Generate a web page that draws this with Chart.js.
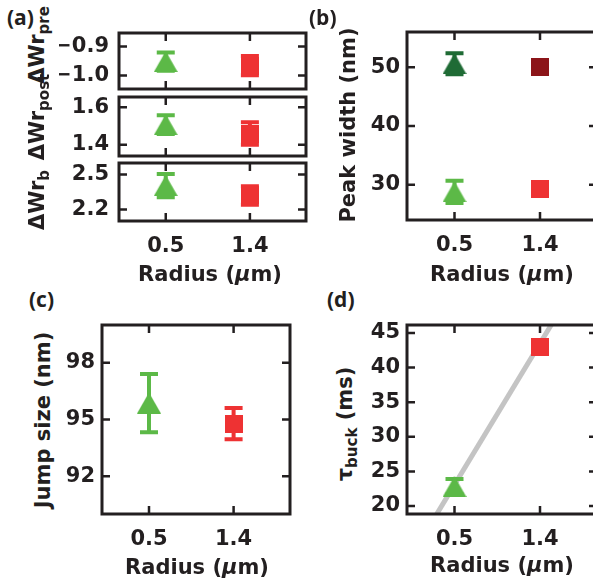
<!DOCTYPE html>
<html>
<head>
<meta charset="utf-8">
<script src="https://cdn.jsdelivr.net/npm/chart.js@4.4.0/dist/chart.umd.min.js"></script>
<style>
  html, body { margin: 0; padding: 0; background: #fff; overflow: hidden; }
  body { width: 593px; height: 586px; position: relative; }
  canvas { position: absolute; }
  .lbl { position: absolute; font: bold 21px "DejaVu Sans"; color: #231f20; line-height: 1; white-space: nowrap; }
  .rot { transform: translate(-50%, -50%) rotate(-90deg); }
  .hor { transform: translateX(-50%); }
  .sub { font-size: 15px; position: relative; top: 5px; }
  .tag { position: absolute; font: bold 21px "Open Sans"; color: #231f20; line-height: 1; }
</style>
</head>
<body>
<canvas id="a1"></canvas>
<canvas id="a2"></canvas>
<canvas id="a3"></canvas>
<canvas id="b"></canvas>
<canvas id="c"></canvas>
<canvas id="d"></canvas>

<div class="tag" style="left:7px;top:7px">(a)</div>
<div class="tag" style="left:309px;top:7px">(b)</div>
<div class="tag" style="left:29px;top:289px">(c)</div>
<div class="tag" style="left:327px;top:289px">(d)</div>

<div class="lbl rot" style="left:37px;top:45px">ΔWr<span class="sub">pre</span></div>
<div class="lbl rot" style="left:37px;top:117px">ΔWr<span class="sub">post</span></div>
<div class="lbl rot" style="left:37px;top:200px">ΔWr<span class="sub">b</span></div>
<div class="lbl rot" style="left:348px;top:125px">Peak width (nm)</div>
<div class="lbl rot" style="left:43px;top:420px">Jump size (nm)</div>
<div class="lbl rot" style="left:345px;top:424px">τ<span class="sub">buck</span> (ms)</div>

<div class="lbl hor" style="left:210px;top:264px">Radius (<i>μ</i>m)</div>
<div class="lbl hor" style="left:502px;top:264px">Radius (<i>μ</i>m)</div>
<div class="lbl hor" style="left:197px;top:557px">Radius (<i>μ</i>m)</div>
<div class="lbl hor" style="left:502px;top:555px">Radius (<i>μ</i>m)</div>

<script>
// x positions (radius, um) and ticks shared by every panel
const radius = [0.5, 1.4];
const radiusTicks = [0.5, 1.4];

// (a) three stacked panels
const preValues = [-0.952, -0.966];
const preErrors = [0.031, 0.033];
const preTicks = [-1.0, -0.9];

const postValues = [1.507, 1.46];
const postErrors = [0.05, 0.06];
const postTicks = [1.4, 1.6];

const bValues = [2.405, 2.32];
const bErrors = [0.1, 0.08];
const bTicks = [2.2, 2.5];

// (b) peak width, two groups
const widthNarrow = [28.8, 29.2];
const widthNarrowErr = [1.9, 0.6];
const widthWide = [50.6, 50.0];
const widthWideErr = [1.8, 0.5];
const widthTicks = [30, 40, 50];

// (c) jump size
const jumpValues = [95.87, 94.78];
const jumpErrors = [1.54, 0.83];
const jumpTicks = [92, 95, 98];

// (d) buckling time with linear fit
const tauValues = [22.8, 43.0];
const tauErrors = [1.1, 0.7];
const tauTicks = [20, 25, 30, 35, 40, 45];
const fitRadius = [0.2, 1.7];
const fitTau = [16.26, 50.31];

const GREEN = '#5cb947', RED = '#ee3233';
const DARK_GREEN = '#1f6b35', DARK_RED = '#8c1519';
const INK = '#231f20', FIT = '#c4c4c4';
const FONT = { family: 'DejaVu Sans', size: 21, weight: 'bold' };

function marker(shape, color) {
  const c = document.createElement('canvas');
  const w = shape === 'tri' ? 24 : 18;
  const h = shape === 'tri' ? 21 : 18;
  c.width = w; c.height = h;
  const g = c.getContext('2d');
  g.fillStyle = color;
  if (shape === 'tri') {
    g.beginPath(); g.moveTo(w / 2, 0); g.lineTo(w, h); g.lineTo(0, h); g.closePath(); g.fill();
  } else {
    g.fillRect(0, 0, w, h);
  }
  return c;
}

function series(values, errors, colors) {
  return {
    data: radius.map((x, i) => ({ x, y: values[i] })),
    errors: errors,
    errColor: colors,
    pointStyle: [marker('tri', colors[0]), marker('rect', colors[1])],
    pointRadius: 12,
    pointHoverRadius: 12,
    showLine: false
  };
}

// error bars under each marker, inward ticks and the box
const frame = {
  id: 'frame',
  beforeDatasetDraw(chart, args) {
    const ds = chart.data.datasets[args.index];
    if (!ds.errors) return;
    const ctx = chart.ctx, xs = chart.scales.x, ys = chart.scales.y;
    ctx.save();
    ctx.lineWidth = 4;
    ds.data.forEach((p, i) => {
      const x = xs.getPixelForValue(p.x);
      const y0 = ys.getPixelForValue(p.y - ds.errors[i]);
      const y1 = ys.getPixelForValue(p.y + ds.errors[i]);
      ctx.strokeStyle = ds.errColor[i];
      ctx.beginPath();
      ctx.moveTo(x, y0); ctx.lineTo(x, y1);
      ctx.moveTo(x - 9, y0); ctx.lineTo(x + 9, y0);
      ctx.moveTo(x - 9, y1); ctx.lineTo(x + 9, y1);
      ctx.stroke();
    });
    ctx.restore();
  },
  afterDraw(chart, args, opts) {
    const ctx = chart.ctx, a = chart.chartArea;
    const xs = chart.scales.x, ys = chart.scales.y;
    ctx.save();
    ctx.strokeStyle = INK;
    ctx.lineWidth = 2.5;
    ctx.beginPath();
    radiusTicks.forEach(v => {
      const x = xs.getPixelForValue(v);
      ctx.moveTo(x, a.bottom); ctx.lineTo(x, a.bottom - 8);
      ctx.moveTo(x, a.top); ctx.lineTo(x, a.top + 8);
    });
    opts.yTicks.forEach(v => {
      const y = ys.getPixelForValue(v);
      ctx.moveTo(a.left, y); ctx.lineTo(a.left + 8, y);
      ctx.moveTo(a.right, y); ctx.lineTo(a.right - 8, y);
    });
    ctx.stroke();
    ctx.lineWidth = 3;
    ctx.strokeRect(a.left, a.top, a.right - a.left, a.bottom - a.top);
    ctx.restore();
  }
};

function panel(id, box, cfg) {
  const [L, T, R, B] = box;
  const yW = cfg.yW, xH = cfg.showX ? 42 : 0;
  // the y axis reserves half a label plus its padding above and below the box
  const padT = 28, padR = 12, padB = cfg.showX ? 0 : 28;
  const cv = document.getElementById(id);
  cv.width = yW + (R - L) + padR;
  cv.height = padT + (B - T) + xH + padB;
  cv.style.left = (L - yW) + 'px';
  cv.style.top = (T - padT) + 'px';
  new Chart(cv, {
    type: 'scatter',
    data: { datasets: cfg.datasets },
    options: {
      responsive: false,
      animation: false,
      devicePixelRatio: 1,
      layout: { padding: { top: padT, right: padR, left: 0, bottom: padB } },
      plugins: { legend: { display: false }, tooltip: { enabled: false }, frame: { yTicks: cfg.yTicks } },
      scales: {
        x: {
          type: 'linear', min: 0, max: 2, display: cfg.showX,
          grid: { display: false, drawTicks: false }, border: { display: false },
          afterBuildTicks: s => { s.ticks = radiusTicks.map(v => ({ value: v })); },
          afterFit: s => { if (cfg.showX) s.height = xH; },
          ticks: { padding: 13, color: INK, font: FONT, callback: v => v.toFixed(1) }
        },
        y: {
          type: 'linear', min: cfg.min, max: cfg.max,
          grid: { display: false, drawTicks: false }, border: { display: false },
          afterBuildTicks: s => { s.ticks = cfg.yTicks.map(v => ({ value: v })); },
          afterFit: s => { s.width = yW; },
          ticks: { padding: cfg.yPad, color: INK, font: FONT, callback: cfg.fmt }
        }
      }
    },
    plugins: [frame]
  });
}

const oneDecimal = v => v.toFixed(1).replace('-', '\u2212');
const whole = v => String(v);

panel('a1', [119, 33, 307, 89], {
  yW: 60, yPad: 10, showX: false, min: -1.046, max: -0.854, yTicks: preTicks, fmt: oneDecimal,
  datasets: [series(preValues, preErrors, [GREEN, RED])]
});
panel('a2', [119, 97, 307, 156], {
  yW: 60, yPad: 10, showX: false, min: 1.34, max: 1.655, yTicks: postTicks, fmt: oneDecimal,
  datasets: [series(postValues, postErrors, [GREEN, RED])]
});
panel('a3', [119, 163, 307, 221], {
  yW: 60, yPad: 10, showX: true, min: 2.10, max: 2.60, yTicks: bTicks, fmt: oneDecimal,
  datasets: [series(bValues, bErrors, [GREEN, RED])]
});
panel('b', [407, 32, 598, 220], {
  yW: 42, yPad: 7, showX: true, min: 24, max: 56, yTicks: widthTicks, fmt: whole,
  datasets: [series(widthWide, widthWideErr, [DARK_GREEN, DARK_RED]),
             series(widthNarrow, widthNarrowErr, [GREEN, RED])]
});
panel('c', [102, 325, 291, 514], {
  yW: 42, yPad: 7, showX: true, min: 90, max: 100, yTicks: jumpTicks, fmt: whole,
  datasets: [series(jumpValues, jumpErrors, [GREEN, RED])]
});
panel('d', [407, 325, 598, 514], {
  yW: 42, yPad: 7, showX: true, min: 18.84, max: 46.16, yTicks: tauTicks, fmt: whole,
  datasets: [
    series(tauValues, tauErrors, [GREEN, RED]),
    {
      data: fitRadius.map((x, i) => ({ x, y: fitTau[i] })),
      showLine: true, borderColor: FIT, borderWidth: 5, pointRadius: 0
    }
  ]
});
</script>
</body>
</html>
